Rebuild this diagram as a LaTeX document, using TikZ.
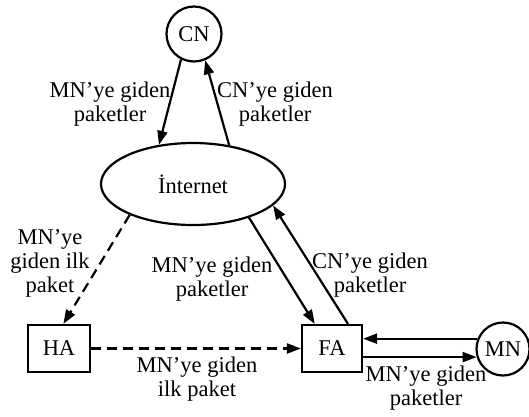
\documentclass[tikz,border=0pt]{standalone}
\usepackage{fontspec}
\setmainfont{Liberation Serif}
\usetikzlibrary{shapes.geometric,arrows.meta,calc}
\begin{document}
\begin{tikzpicture}[x=1pt,y=-1pt,
  every node/.style={font=\fontsize{22.5}{24}\selectfont},
  ln/.style={line width=2.2pt},
  arr/.style={ln,-{Triangle[length=14pt,width=10pt]}},
  darr/.style={arr,dash pattern=on 10pt off 6pt},
  circ/.style={draw,circle,ln,minimum size=55pt,inner sep=0pt},
  box/.style={draw,rectangle,ln,inner sep=0pt},
  lbl/.style={align=center,inner sep=0pt}]
\useasboundingbox (0,0) rectangle (529,416);
\node[circ] (CN) at (194,34) {CN};
\node[draw,ellipse,ln,minimum width=184pt,minimum height=82pt,inner sep=0pt] (Int) at (193,184) {İnternet};
\node[box,minimum width=62pt,minimum height=47pt] (HA) at (59,348.5) {HA};
\node[box,minimum width=60pt,minimum height=47pt] (FA) at (332,348.5) {FA};
\node[circ,minimum size=53pt] (MN) at (503,349) {MN};
% arrows
\draw[arr] (CN.243.4) -- (Int.131.8);
\draw[arr] (Int.47.4) -- (CN.293.4);
\draw[arr] (Int.-31.6) -- (FA.125.9);
\draw[arr] (FA.57.4) -- (Int.-15.5);
\draw[darr] (Int.206.7) -- (HA.80.3);
\draw[darr] (HA.east) -- (FA.west);
\draw[arr] (MN.158.3) -- (FA.east |- MN.158.3);
\draw[arr] (FA.east |- MN.197.2) -- (MN.197.2);
% labels
\node[lbl] (l1) at (110,104) {MN’ye giden\\paketler};
\node[lbl] (l2) at (275,104) {CN’ye giden\\paketler};
\node[lbl] (l3) at (50,263) {MN’ye\\giden ilk\\paket};
\node[lbl] (l4) at (212,279) {MN’ye giden\\paketler};
\node[lbl] (l5) at (370,275) {CN’ye giden\\paketler};
\node[lbl] (l6) at (197,379) {MN’ye giden\\ilk paket};
\node[lbl] (l7) at (426,388) {MN’ye giden\\paketler};
\end{tikzpicture}
\end{document}
